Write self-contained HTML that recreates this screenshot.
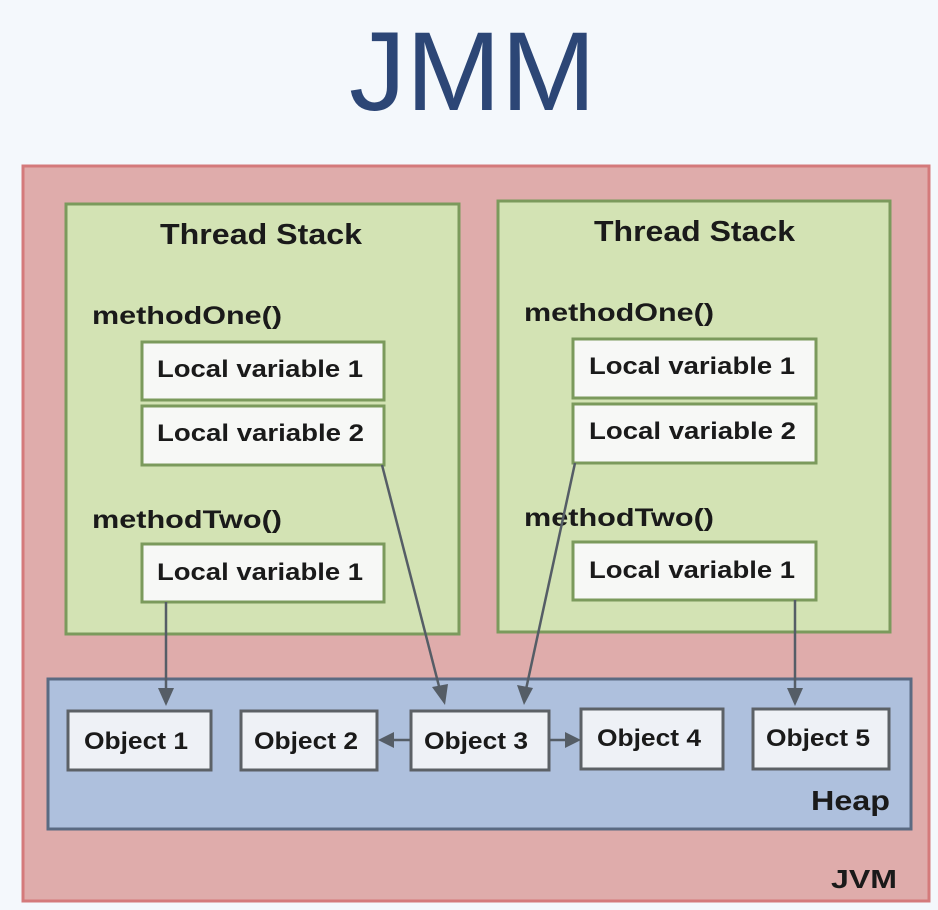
<!DOCTYPE html>
<html><head><meta charset="utf-8"><style>
html,body{margin:0;padding:0;background:#f4f8fc;}
svg{display:block}
text{font-family:"Liberation Sans",Arial,sans-serif;}
.b{font-weight:bold;fill:#1a1a1a}
</style></head><body>
<svg width="938" height="910" viewBox="0 0 938 910" xmlns="http://www.w3.org/2000/svg">
<rect width="938" height="910" fill="#f4f8fc"/>
<text x="349" y="110" font-size="112" fill="#2c4676" textLength="247" lengthAdjust="spacingAndGlyphs">JMM</text>
<rect x="23" y="166" width="906" height="735" fill="#dfacab" stroke="#d47a7b" stroke-width="3"/>
<rect x="66" y="204" width="393" height="430" fill="#d3e3b4" stroke="#7b9a5c" stroke-width="3"/>
<rect x="498" y="201" width="392" height="431" fill="#d3e3b4" stroke="#7b9a5c" stroke-width="3"/>
<text x="160" y="244" font-size="29" class="b" textLength="202" lengthAdjust="spacingAndGlyphs">Thread Stack</text>
<text x="594" y="241" font-size="29" class="b" textLength="201" lengthAdjust="spacingAndGlyphs">Thread Stack</text>
<g font-size="25" class="b">
<text x="92" y="324" textLength="190" lengthAdjust="spacingAndGlyphs">methodOne()</text>
<text x="92" y="528" textLength="190" lengthAdjust="spacingAndGlyphs">methodTwo()</text>
<text x="524" y="321" textLength="190" lengthAdjust="spacingAndGlyphs">methodOne()</text>
<text x="524" y="526" textLength="190" lengthAdjust="spacingAndGlyphs">methodTwo()</text>
</g>
<g fill="#f7f8f6" stroke="#7b9a5c" stroke-width="3">
<rect x="142" y="342" width="242" height="58"/>
<rect x="142" y="406" width="242" height="59"/>
<rect x="142" y="544" width="242" height="58"/>
<rect x="573" y="339" width="243" height="59"/>
<rect x="573" y="404" width="243" height="59"/>
<rect x="573" y="542" width="243" height="58"/>
</g>
<g font-size="24" class="b">
<text x="157" y="377" textLength="206" lengthAdjust="spacingAndGlyphs">Local variable 1</text>
<text x="157" y="441" textLength="207" lengthAdjust="spacingAndGlyphs">Local variable 2</text>
<text x="157" y="580" textLength="206" lengthAdjust="spacingAndGlyphs">Local variable 1</text>
<text x="589" y="374" textLength="206" lengthAdjust="spacingAndGlyphs">Local variable 1</text>
<text x="589" y="439" textLength="207" lengthAdjust="spacingAndGlyphs">Local variable 2</text>
<text x="589" y="578" textLength="206" lengthAdjust="spacingAndGlyphs">Local variable 1</text>
</g>
<rect x="48" y="679" width="863" height="150" fill="#aec0dd" stroke="#5a6a82" stroke-width="3"/>
<g fill="#eef1f6" stroke="#5c6166" stroke-width="3">
<rect x="68" y="711" width="143" height="59"/>
<rect x="241" y="711" width="136" height="59"/>
<rect x="411" y="711" width="138" height="59"/>
<rect x="581" y="709" width="142" height="60"/>
<rect x="753" y="709" width="136" height="60"/>
</g>
<g font-size="24" class="b">
<text x="84" y="749" textLength="104" lengthAdjust="spacingAndGlyphs">Object 1</text>
<text x="254" y="749" textLength="104" lengthAdjust="spacingAndGlyphs">Object 2</text>
<text x="424" y="749" textLength="104" lengthAdjust="spacingAndGlyphs">Object 3</text>
<text x="597" y="746" textLength="104" lengthAdjust="spacingAndGlyphs">Object 4</text>
<text x="766" y="746" textLength="104" lengthAdjust="spacingAndGlyphs">Object 5</text>
</g>
<text x="811" y="810" font-size="28" class="b" textLength="79" lengthAdjust="spacingAndGlyphs">Heap</text>
<text x="831" y="888" font-size="26" class="b" textLength="66" lengthAdjust="spacingAndGlyphs">JVM</text>
<g stroke="#555d66" stroke-width="2.5" fill="none">
<line x1="166" y1="602" x2="166" y2="694"/>
<line x1="382" y1="465" x2="441" y2="694"/>
<line x1="575" y1="463" x2="525" y2="694"/>
<line x1="795" y1="600" x2="795" y2="694"/>
<line x1="410" y1="740" x2="392" y2="740"/>
<line x1="550" y1="740" x2="567" y2="740"/>
</g>
<g fill="#555d66">
<path d="M158,688 L174,688 L166,706 z"/>
<path d="M432,687 L448,684 L445,705 z"/>
<path d="M517,685 L533,688 L524,705 z"/>
<path d="M787,688 L803,688 L795,706 z"/>
<path d="M394,732 L394,748 L378,740 z"/>
<path d="M565,732 L565,748 L581,740 z"/>
</g>
</svg>
</body></html>
